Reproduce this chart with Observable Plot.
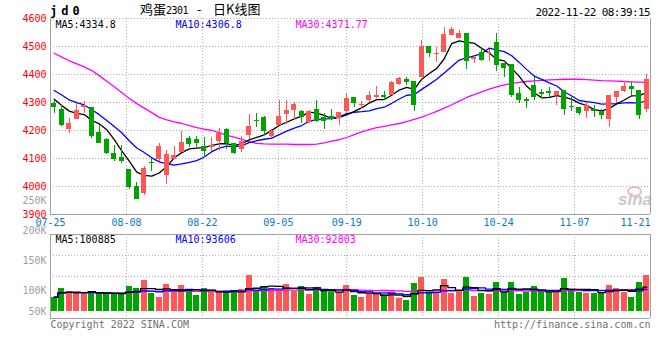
<!DOCTYPE html>
<html><head><meta charset="utf-8">
<script src="https://cdn.jsdelivr.net/npm/d3@7"></script>
<script src="https://cdn.jsdelivr.net/npm/@observablehq/plot@0.6"></script>
<style>
body{margin:0;background:#fff;}
#wrap{position:relative;width:660px;height:360px;background:#fff;overflow:hidden;font-family:"DejaVu Sans Mono",monospace;}
.t{position:absolute;white-space:pre;}
.cjk{font-family:'Noto Sans CJK SC';font-size:13px;line-height:16px;top:1px;}
</style></head><body>
<div id="wrap">
  <span class="t" style="left:50px;top:5px;font-size:12px;line-height:12px;font-weight:bold;letter-spacing:4px;">jd0</span>
  <span class="t cjk" style="left:140px;">鸡蛋<span style="font-family:'DejaVu Sans Mono';font-size:10px;letter-spacing:-0.5px;">2301</span></span>
  <span class="t cjk" style="left:197px;">-</span>
  <span class="t cjk" style="left:213px;">日K线图</span>
  <span class="t" style="right:10px;top:7px;font-size:11px;line-height:11px;letter-spacing:-0.6px;">2022-11-22 08:39:15</span>
  <span class="t" style="left:627px;top:186px;width:11px;height:7px;border:2px solid #f6b8b8;border-radius:50%;"></span>
  <span class="t" style="left:618px;top:191px;font-size:17px;line-height:17px;font-style:italic;font-weight:bold;font-family:'Liberation Sans';color:#c8c8c8;">sina</span>
</div>
<script>
// ---- data (jd2301 daily, 07-25 .. 11-21) ----
const opens  = [4298,4274,4205,4238,4281,4281,4193,4169,4117,4102,4062,4000,3976,4086,4098,4038,4098,4121,4172,4168,
                4143,4138,4159,4205,4152,4131,4183,4236,4245,4180,4219,4257,4271,4269,4228,4274,4245,4250,4243,4269,
                4317,4288,4307,4317,4324,4324,4364,4381,4374,4388,4500,4471,4479,4540,4529,4545,4452,4479,4474,4514,
                4438,4436,4331,4310,4360,4336,4338,4326,4343,4286,4281,4267,4274,4269,4240,4319,4340,4357,4343,4276];
const highs  = [4307,4288,4243,4298,4302,4283,4217,4170,4145,4148,4062,4014,4071,4100,4152,4129,4143,4198,4180,4178,
                4174,4174,4207,4207,4155,4178,4257,4259,4250,4203,4307,4307,4300,4271,4271,4307,4262,4274,4266,4331,
                4317,4302,4338,4357,4338,4374,4388,4390,4376,4521,4500,4495,4569,4569,4557,4545,4462,4495,4488,4548,
                4438,4436,4352,4319,4388,4348,4355,4341,4343,4319,4283,4300,4290,4276,4326,4340,4376,4374,4343,4400];
const lows   = [4262,4214,4188,4238,4262,4171,4152,4114,4088,4083,3988,3955,3969,4055,4090,4007,4095,4121,4140,4138,
                4102,4126,4128,4133,4114,4121,4169,4209,4181,4172,4217,4221,4240,4224,4226,4229,4205,4236,4219,4259,
                4281,4274,4300,4314,4307,4324,4360,4362,4269,4388,4460,4443,4479,4538,4529,4419,4438,4448,4448,4410,
                4390,4319,4298,4279,4307,4314,4319,4290,4255,4269,4255,4243,4248,4238,4212,4295,4336,4326,4240,4264];
const closes = [4283,4217,4224,4271,4290,4179,4155,4119,4095,4088,3998,3955,4064,4081,4143,4114,4110,4157,4149,4155,
                4126,4145,4188,4152,4117,4162,4214,4231,4197,4198,4250,4271,4293,4245,4269,4231,4231,4238,4264,4314,
                4295,4293,4324,4324,4317,4371,4386,4371,4288,4500,4474,4476,4543,4560,4548,4448,4460,4450,4479,4433,
                4421,4326,4307,4302,4319,4329,4333,4340,4274,4281,4260,4288,4269,4252,4326,4340,4357,4345,4255,4381];
// closes of the 9 sessions before 07-25 (estimated from where MA5 / MA10 start)
const prevCloses = [4380,4400,4370,4370,4350,4330,4325,4312,4310];
// MA30 line as drawn
const ma30 = [4476,4462,4449,4438,4427,4414,4396,4376,4356,4336,
              4314,4296,4280,4264,4247,4238,4231,4225,4217,4210,
              4205,4200,4192,4183,4176,4168,4160,4154,4152,4151,
              4151,4151,4150,4150,4150,4151,4156,4162,4167,4175,
              4185,4195,4203,4210,4215,4220,4225,4232,4240,4248,
              4258,4268,4280,4292,4305,4318,4328,4338,4348,4356,
              4363,4368,4372,4375,4377,4379,4381,4382,4383,4383,
              4383,4382,4380,4378,4377,4376,4375,4374,4373,4372];
// volume, thousands of lots
const volumes = [88.9,103.3,98.3,96.1,96.1,96.1,94.4,94.4,94.4,94.4,
                 106.7,103.3,116.7,94.4,88.9,110,96.1,108.3,98.9,91.7,
                 103.3,98.9,96.1,96.1,96.1,101.7,125,100,106.7,102.8,
                 100,110,98.3,106.7,93.3,103.3,98.3,96.1,96.1,108.3,
                 91.7,88.9,92.8,92.8,92.8,96.1,87.2,83.3,111.7,122.2,
                 94.4,94.4,118.3,95,98.3,122.2,90.6,95,93.3,113.3,
                 97,113.3,93.3,97,106.4,96,96,96,120.3,101.1,
                 96,95,95,96,108.3,103.9,97,88.6,113.3,125];
const tickLabels = ["07-25","08-08","08-22","09-05","09-19","10-10","10-24","11-07","11-21"];
const tickIndex  = [0,10,20,30,39,49,59,69,79];
const priceTicks = [4600,4500,4400,4300,4200,4100,4000,3900];
const volTicks   = [250,200,150,100,50];
const maLegend   = ["MA5:4334.8","MA10:4306.8","MA30:4371.77"];
const volLegend  = ["MA5:100885","MA10:93606","MA30:92803"];

// ---- styling ----
const RED = "#ff5656", GREEN = "#00a400";
const MA_COLORS = ["#000000","#0000ff","#ff00ff"];
const MONO = "DejaVu Sans Mono";
const GRID = {stroke:"#b0b0b0", strokeDasharray:"1,2"};
const FRAME = "#a0a0a0";

const N = closes.length;
const bars = d3.range(N).map(i => ({i, o:opens[i], h:highs[i], l:lows[i], c:closes[i], v:volumes[i],
                                    col: closes[i] >= opens[i] ? RED : GREEN}));
const P = prevCloses.length;
const allC = prevCloses.concat(closes);
const maOf = k => d3.range(N).map(i => d3.mean(allC.slice(P + i - k + 1, P + i + 1)));
const ma5 = maOf(5), ma10 = maOf(10);
const maData = d3.range(N).map(i => ({i, a:ma5[i], b:ma10[i], c:ma30[i]}));
const vmaOf = k => d3.range(N).map(i => d3.mean(volumes.slice(Math.max(0, i - k + 1), i + 1)));
const v5 = vmaOf(5), v10 = vmaOf(10), v30 = vmaOf(30);
const vmaData = d3.range(N).map(i => ({i, a:v5[i], b:v10[i], c:v30[i]}));
// date ticks are spread evenly across the frame (Sina layout)
const ticks = tickIndex.map((k, j) => ({x: k * N / (N - 1) - 0.5, label: tickLabels[j]}));
const inner = ticks.slice(1, -1);
const xLo = -0.5, xHi = N - 0.5;

const main = Plot.plot({
  width: 660, height: 230,
  marginLeft: 50, marginRight: 10, marginTop: 18, marginBottom: 16,
  x: {domain: [xLo, xHi], axis: null},
  y: {domain: [3900, 4600], axis: null},
  color: {type: "identity"},
  style: {background: "transparent", overflow: "visible", position: "absolute", left: "0px", top: "0px", fontFamily: MONO},
  marks: [
    Plot.ruleY(priceTicks.slice(0, -1), GRID),
    Plot.ruleX(inner, {x: "x", ...GRID}),
    Plot.ruleY([3900], {stroke: FRAME}),
    Plot.ruleX([xLo, xHi], {stroke: FRAME}),
    Plot.line(maData, {x: "i", y: "c", stroke: MA_COLORS[2], strokeWidth: 1.3}),
    Plot.line(maData, {x: "i", y: "b", stroke: MA_COLORS[1], strokeWidth: 1.3}),
    Plot.line(maData, {x: "i", y: "a", stroke: MA_COLORS[0], strokeWidth: 1.3}),
    Plot.ruleX(bars, {x: "i", y1: "l", y2: "h", stroke: "col", shapeRendering: "crispEdges"}),
    Plot.rect(bars, {x1: d => d.i - 0.34, x2: d => d.i + 0.34, y1: "o", y2: "c", fill: "col", shapeRendering: "crispEdges"}),
    Plot.text(priceTicks, {x: xLo, y: d => d, text: d => String(d), textAnchor: "end", dx: -4, fill: "#ff0000", fontSize: 10}),
    Plot.text(ticks.slice(0, -1), {x: "x", y: 3900, text: "label", dy: 8, fill: "#0a78c8", fontSize: 10}),
    Plot.text(ticks.slice(-1), {x: "x", y: 3900, text: "label", dy: 8, textAnchor: "end", fill: "#0a78c8", fontSize: 10}),
    ...maLegend.map((t, j) => Plot.text([t], {frameAnchor: "top-left", textAnchor: "start", lineAnchor: "top",
        text: d => d, dx: 5 + 120 * j, dy: 2, fill: MA_COLORS[j], fontSize: 10}))
  ]
});

// volume panel: 0.6 px per thousand lots, bars rise from the panel floor
const volLo = 53.33, volHi = 193.33, volBase = 65;
const volGrid = [1, 2, 3].map(k => volLo + (volHi - volLo) * k / 4);
const vol = Plot.plot({
  width: 660, height: 140,
  marginLeft: 50, marginRight: 10, marginTop: 39, marginBottom: 17,
  x: {domain: [xLo, xHi], axis: null},
  y: {domain: [volLo, volHi], axis: null},
  color: {type: "identity"},
  style: {background: "transparent", overflow: "visible", position: "absolute", left: "0px", top: "195px", fontFamily: MONO},
  marks: [
    Plot.ruleY(volGrid, GRID),
    Plot.ruleX(inner, {x: "x", ...GRID}),
    Plot.ruleY([volLo, volHi], {stroke: FRAME}),
    Plot.ruleX([xLo, xHi], {stroke: FRAME}),
    Plot.rect(bars, {x1: d => d.i - 0.37, x2: d => d.i + 0.37, y1: volBase, y2: "v", fill: "col", shapeRendering: "crispEdges"}),
    Plot.line(vmaData, {x: "i", y: "c", stroke: MA_COLORS[2], strokeWidth: 1.3, curve: "step"}),
    Plot.line(vmaData, {x: "i", y: "b", stroke: MA_COLORS[1], strokeWidth: 1.3, curve: "step"}),
    Plot.line(vmaData, {x: "i", y: "a", stroke: MA_COLORS[0], strokeWidth: 1.3, curve: "step"}),
    Plot.text(volTicks, {x: xLo, y: d => Math.max(d, volBase), text: d => d + "K", textAnchor: "end", dx: -4, fill: "#a0a0a0", fontSize: 10}),
    ...volLegend.map((t, j) => Plot.text([t], {frameAnchor: "top-left", textAnchor: "start", lineAnchor: "top",
        text: d => d, dx: 5 + 120 * j, dy: 1, fill: MA_COLORS[j], fontSize: 10})),
    Plot.text(["Copyright 2022 SINA.COM"], {frameAnchor: "bottom-left", textAnchor: "start", lineAnchor: "top", text: d => d, dy: 2, fill: "#707070", fontSize: 10}),
    Plot.text(["http://finance.sina.com.cn"], {frameAnchor: "bottom-right", textAnchor: "end", lineAnchor: "top", text: d => d, dy: 2, fill: "#707070", fontSize: 10})
  ]
});

const wrap = document.getElementById("wrap");
wrap.appendChild(main);
wrap.appendChild(vol);
</script>
</body></html>
